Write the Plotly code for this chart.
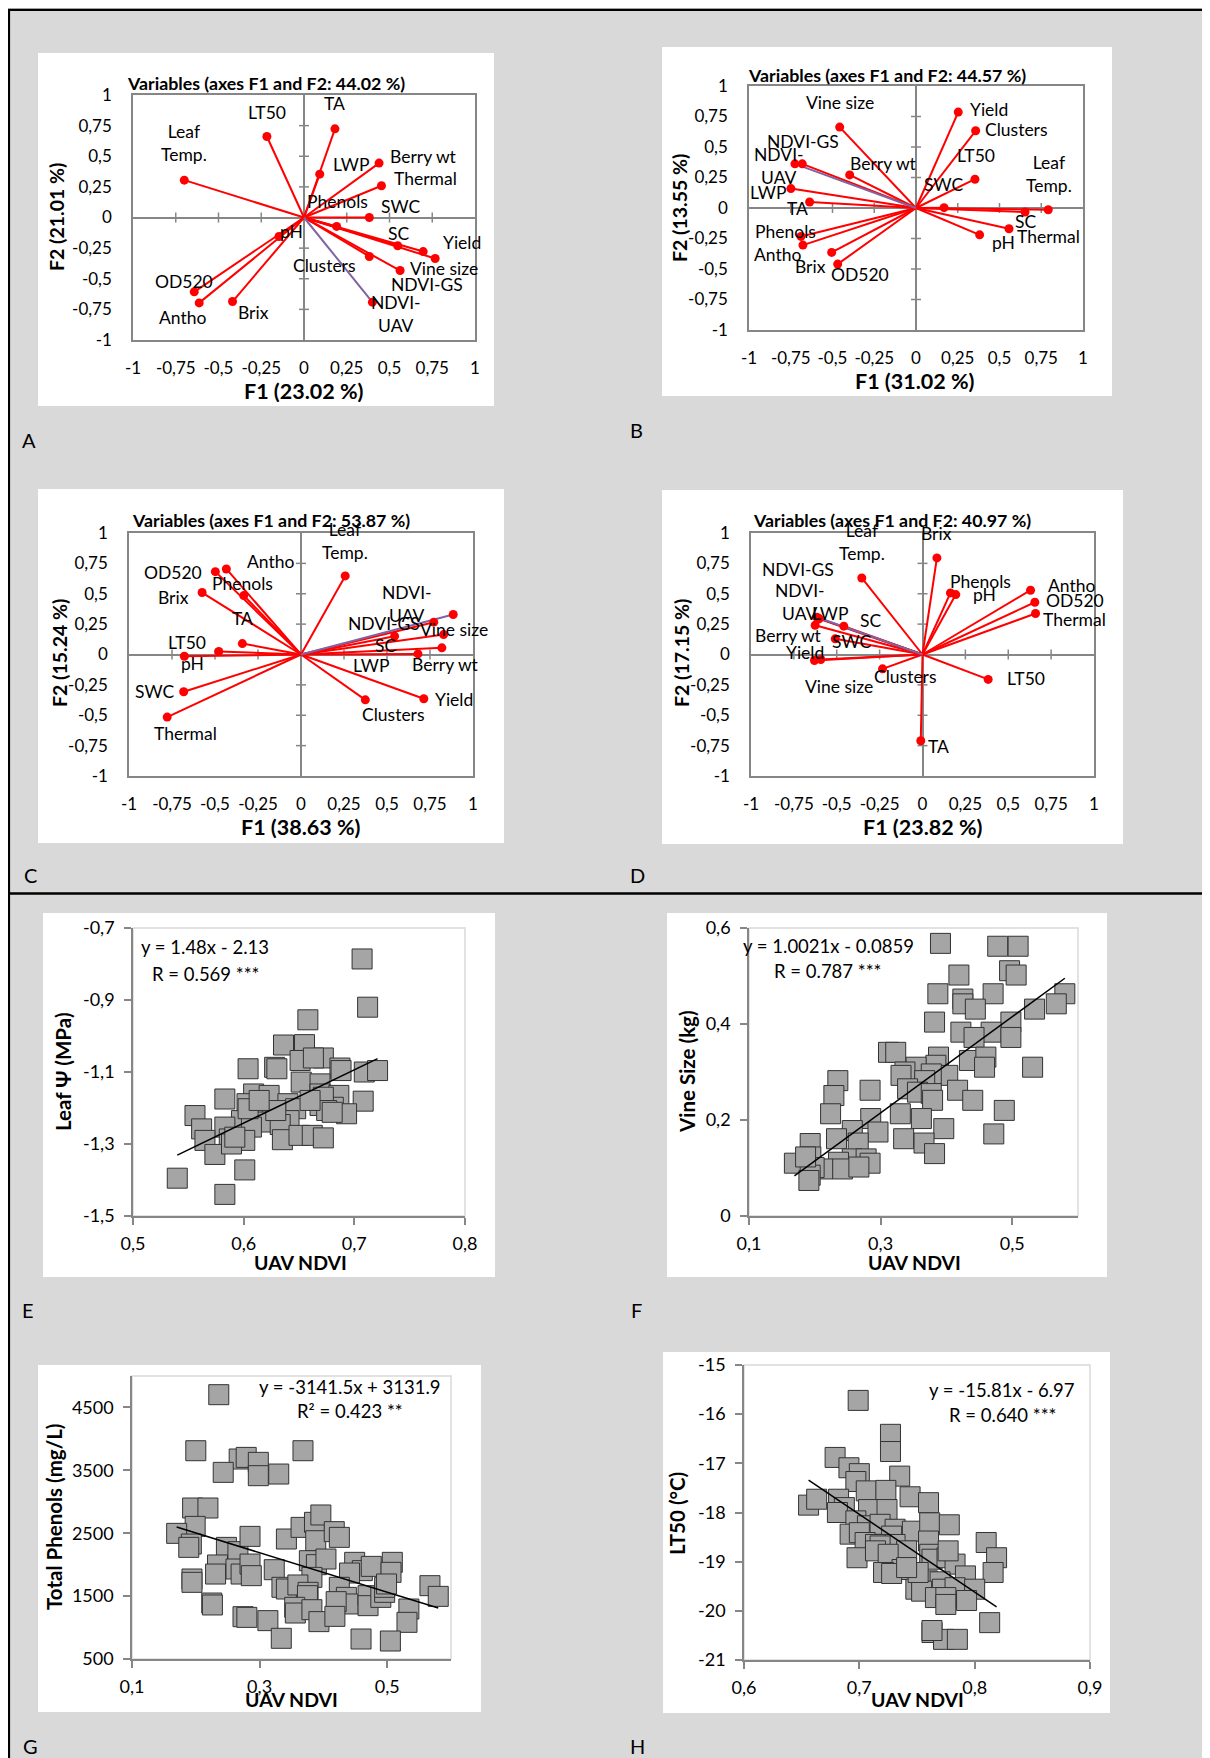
import plotly.graph_objects as go

# page geometry: the browser body adds an 8 px margin, so the figure covers page pixels 8..1210 / 8..1758
OX, OY = 8, 8
W, H = 1202, 1750
FONT = "Lato, sans-serif"
RED = "#ff0000"
PURPLE = "#8064a2"
AXGRAY = "#868686"
LIGHTGRAY = "#d9d9d9"
BOXGRAY = "#d9d9d9"

# ---------------- PCA correlation circles (panels A-D) ----------------
VARIABLES = ["Leaf Temp.", "LT50", "TA", "LWP", "Berry wt", "Thermal", "Phenols", "SWC", "pH",
             "SC", "Yield", "Vine size", "Clusters", "NDVI-GS", "NDVI-UAV", "OD520", "Antho", "Brix"]
DISPLAY = {"Leaf Temp.": "Leaf<br>Temp.", "NDVI-UAV": "NDVI-<br>UAV"}

A_F1 = [-0.700, -0.217, 0.181, 0.092, 0.439, 0.453, 0.191, 0.382, -0.146,
        0.548, 0.767, 0.697, 0.382, 0.562, 0.400, -0.642, -0.613, -0.418]
A_F2 = [0.305, 0.661, 0.724, 0.354, 0.444, 0.259, -0.073, 0.000, -0.155,
        -0.231, -0.335, -0.278, -0.318, -0.433, -0.691, -0.607, -0.697, -0.686]

B_F1 = [0.792, 0.353, -0.637, -0.749, -0.397, 0.557, -0.689, 0.168, 0.381,
        0.653, 0.253, -0.457, 0.357, -0.681, -0.725, -0.469, -0.677, -0.505]
B_F2 = [-0.014, 0.236, 0.049, 0.159, 0.271, -0.170, -0.233, 0.003, -0.220,
        -0.033, 0.786, 0.663, 0.633, 0.362, 0.362, -0.460, -0.304, -0.364]

C_F1 = [0.257, -0.478, -0.341, 0.680, 0.819, -0.778, -0.333, -0.682, -0.678,
        0.544, 0.714, 0.829, 0.374, 0.772, 0.885, -0.498, -0.434, -0.575]
C_F2 = [0.647, 0.025, 0.090, 0.005, 0.055, -0.515, 0.485, -0.307, -0.014,
        0.151, -0.364, 0.164, -0.373, 0.266, 0.329, 0.682, 0.704, 0.510]

D_F1 = [-0.354, 0.383, -0.010, -0.603, -0.626, 0.659, 0.163, -0.509, 0.194,
        -0.459, -0.630, -0.593, -0.233, -0.606, -0.616, 0.655, 0.630, 0.084]
D_F2 = [0.630, -0.205, -0.710, 0.293, 0.241, 0.337, 0.507, 0.129, 0.493,
        0.233, -0.049, -0.041, -0.118, 0.299, 0.307, 0.430, 0.529, 0.795]

PCA_TITLES = ["Variables (axes F1 and F2: 44.02 %)", "Variables (axes F1 and F2: 44.57 %)",
              "Variables (axes F1 and F2: 53.87 %)", "Variables (axes F1 and F2: 40.97 %)"]
PCA_XTITLES = ["F1 (23.02 %)", "F1 (31.02 %)", "F1 (38.63 %)", "F1 (23.82 %)"]
PCA_YTITLES = ["F2 (21.01 %)", "F2 (13.55 %)", "F2 (15.24 %)", "F2 (17.15 %)"]
PCA_TICKS = [-1, -0.75, -0.5, -0.25, 0, 0.25, 0.5, 0.75, 1]
PCA_TICKTEXT = ["-1", "-0,75", "-0,5", "-0,25", "0", "0,25", "0,5", "0,75", "1"]

# label offsets in pixels (layout only)
SHIFT_A = [(0, 37), (0, 24), (0, 25), (32, 10), (44, 7), (44, 7), (1, 25), (31, 11), (12, 5),
           (1, 12), (27, 16), (21, -17), (-45, -9), (27, -14), (24, -12), (-10, 10), (-17, -15), (21, -11)]
SHIFT_B = [(1, 36), (1, 24), (-12, -6), (-22, -4), (34, 11), (39, -8), (-15, 5), (-1, 23), (24, -8),
           (0, -9), (31, 3), (0, 25), (41, 1), (1, 22), (-16, -2), (22, -10), (-25, -9), (-21, -14)]
SHIFT_C = [(0, 35), (-32, 9), (0, 25), (-46, -12), (4, -17), (18, -16), (-1, 12), (-29, 0), (8, -7),
           (-9, -9), (30, -1), (10, 5), (28, -15), (-50, -1), (-46, 11), (-42, -1), (44, 7), (-29, -5)]
SHIFT_D = [(0, 36), (38, 1), (18, -6), (11, 5), (-27, -10), (39, -6), (30, 11), (16, -3), (29, 0),
           (27, 6), (-9, 8), (18, -27), (23, -8), (-21, 49), (-17, 15), (40, 2), (41, 5), (0, 24)]

# ---------------- Regression scatter plots (panels E-H) ----------------
E_X = [0.707, 0.712, 0.658, 0.636, 0.655, 0.651, 0.672, 0.663, 0.628, 0.630,
       0.604, 0.687, 0.688, 0.709, 0.721, 0.652, 0.669, 0.669, 0.609, 0.686,
       0.708, 0.583, 0.603, 0.623, 0.640, 0.647, 0.669, 0.681, 0.693, 0.556,
       0.614, 0.626, 0.598, 0.617, 0.634, 0.641, 0.562, 0.583, 0.607, 0.633,
       0.565, 0.587, 0.601, 0.635, 0.650, 0.662, 0.672, 0.574, 0.540, 0.601,
       0.583, 0.589, 0.629, 0.604, 0.672, 0.675, 0.660, 0.680, 0.614, 0.592]
E_Y = [-0.786, -0.920, -0.955, -1.025, -1.024, -1.068, -1.061, -1.061, -1.087, -1.091,
       -1.091, -1.089, -1.096, -1.100, -1.096, -1.128, -1.133, -1.161, -1.161, -1.165,
       -1.181, -1.175, -1.188, -1.165, -1.188, -1.202, -1.193, -1.198, -1.216, -1.221,
       -1.216, -1.216, -1.235, -1.239, -1.244, -1.235, -1.258, -1.253, -1.253, -1.246,
       -1.290, -1.286, -1.290, -1.288, -1.276, -1.276, -1.283, -1.329, -1.395, -1.372,
       -1.440, -1.300, -1.207, -1.202, -1.170, -1.207, -1.179, -1.212, -1.179, -1.281]

F_X = [0.391, 0.478, 0.509, 0.496, 0.506, 0.419, 0.387, 0.425, 0.425, 0.471,
       0.444, 0.580, 0.567, 0.534, 0.382, 0.498, 0.422, 0.468, 0.442, 0.498,
       0.312, 0.323, 0.388, 0.384, 0.435, 0.460, 0.458, 0.531, 0.354, 0.337,
       0.331, 0.402, 0.377, 0.367, 0.235, 0.341, 0.356, 0.377, 0.417, 0.284,
       0.229, 0.379, 0.440, 0.224, 0.330, 0.488, 0.362, 0.285, 0.296, 0.257,
       0.396, 0.472, 0.233, 0.335, 0.266, 0.366, 0.193, 0.382, 0.169, 0.194,
       0.257, 0.278, 0.284, 0.236, 0.242, 0.212, 0.199, 0.193, 0.191, 0.267,
       0.186]
F_Y = [0.568, 0.562, 0.562, 0.511, 0.502, 0.502, 0.463, 0.452, 0.442, 0.463,
       0.431, 0.463, 0.442, 0.431, 0.404, 0.404, 0.383, 0.383, 0.372, 0.372,
       0.341, 0.341, 0.331, 0.314, 0.324, 0.331, 0.310, 0.310, 0.310, 0.300,
       0.293, 0.293, 0.296, 0.282, 0.282, 0.265, 0.258, 0.255, 0.262, 0.262,
       0.251, 0.241, 0.241, 0.213, 0.213, 0.220, 0.203, 0.203, 0.175, 0.178,
       0.182, 0.171, 0.161, 0.161, 0.152, 0.152, 0.151, 0.130, 0.110, 0.123,
       0.119, 0.119, 0.110, 0.112, 0.098, 0.098, 0.101, 0.085, 0.074, 0.102,
       0.123]

G_X = [0.236, 0.200, 0.368, 0.268, 0.279, 0.298, 0.298, 0.243, 0.330, 0.195,
       0.219, 0.199, 0.170, 0.193, 0.189, 0.248, 0.266, 0.285, 0.342, 0.365,
       0.386, 0.396, 0.388, 0.417, 0.425, 0.234, 0.231, 0.263, 0.271, 0.285,
       0.287, 0.323, 0.378, 0.389, 0.404, 0.449, 0.461, 0.441, 0.475, 0.508,
       0.506, 0.382, 0.194, 0.194, 0.335, 0.342, 0.360, 0.376, 0.375, 0.425,
       0.436, 0.439, 0.420, 0.470, 0.470, 0.490, 0.496, 0.496, 0.499, 0.567,
       0.580, 0.534, 0.531, 0.225, 0.226, 0.274, 0.280, 0.313, 0.355, 0.356,
       0.382, 0.393, 0.418, 0.334, 0.459, 0.505]
G_Y = [4703, 3812, 3812, 3680, 3706, 3627, 3415, 3468, 3441, 2901,
       2901, 2609, 2498, 2328, 2275, 2275, 2207, 2450, 2408, 2593,
       2673, 2790, 2381, 2525, 2434, 1995, 1851, 1931, 1851, 2010,
       1825, 1920, 2063, 2000, 2090, 2037, 1905, 1867, 1973, 2037,
       1878, 1798, 1772, 1719, 1640, 1613, 1677, 1560, 1507, 1640,
       1480, 1375, 1412, 1507, 1348, 1480, 1560, 1640, 1693, 1666,
       1496, 1295, 1083, 1390, 1359, 1173, 1162, 1110, 1322, 1231,
       1284, 1094, 1178, 829, 818, 786]

H_X = [0.699, 0.727, 0.727, 0.679, 0.691, 0.700, 0.697, 0.735, 0.706, 0.723,
       0.744, 0.760, 0.656, 0.663, 0.682, 0.687, 0.708, 0.724, 0.681, 0.697,
       0.707, 0.718, 0.731, 0.746, 0.761, 0.778, 0.692, 0.700, 0.728, 0.705,
       0.714, 0.731, 0.718, 0.741, 0.760, 0.810, 0.698, 0.714, 0.725, 0.761,
       0.763, 0.776, 0.783, 0.819, 0.737, 0.721, 0.728, 0.816, 0.792, 0.759,
       0.770, 0.749, 0.754, 0.772, 0.783, 0.800, 0.766, 0.775, 0.793, 0.775,
       0.813, 0.763, 0.773, 0.785, 0.763, 0.751, 0.741, 0.777]
H_Y = [-15.72, -16.41, -16.76, -16.88, -17.09, -17.21, -17.37, -17.26, -17.56, -17.55,
       -17.68, -17.80, -17.85, -17.73, -17.73, -17.90, -17.94, -17.94, -18.00, -18.17,
       -18.27, -18.24, -18.34, -18.38, -18.21, -18.25, -18.44, -18.41, -18.48, -18.61,
       -18.65, -18.65, -18.68, -18.78, -18.58, -18.61, -18.92, -18.78, -18.85, -18.85,
       -18.95, -18.92, -19.05, -18.92, -19.16, -19.22, -19.24, -19.22, -19.29, -19.39,
       -19.41, -19.56, -19.60, -19.56, -19.53, -19.56, -19.73, -19.73, -19.79, -19.87,
       -20.24, -20.44, -20.58, -20.58, -20.40, -19.22, -19.12, -18.78]

# regression equations (slope, intercept) and texts
E_FIT = (1.48, -2.13)
F_FIT = (1.0021, -0.0859)
G_FIT = (-3141.5, 3131.9)
H_FIT = (-15.81, -6.97)
E_TEXT = ["y = 1.48x - 2.13", "R = 0.569 ***"]
F_TEXT = ["y = 1.0021x - 0.0859", "R = 0.787 ***"]
G_TEXT = ["y = -3141.5x + 3131.9", "R² = 0.423 **"]
H_TEXT = ["y = -15.81x - 6.97", "R = 0.640 ***"]

E_XTICKS, E_XTEXT = [0.5, 0.6, 0.7, 0.8], ["0,5", "0,6", "0,7", "0,8"]
E_YTICKS, E_YTEXT = [-0.7, -0.9, -1.1, -1.3, -1.5], ["-0,7", "-0,9", "-1,1", "-1,3", "-1,5"]
F_XTICKS, F_XTEXT = [0.1, 0.3, 0.5], ["0,1", "0,3", "0,5"]
F_YTICKS, F_YTEXT = [0, 0.2, 0.4, 0.6], ["0", "0,2", "0,4", "0,6"]
G_XTICKS, G_XTEXT = [0.1, 0.3, 0.5], ["0,1", "0,3", "0,5"]
G_YTICKS, G_YTEXT = [500, 1500, 2500, 3500, 4500], ["500", "1500", "2500", "3500", "4500"]
H_XTICKS, H_XTEXT = [0.6, 0.7, 0.8, 0.9], ["0,6", "0,7", "0,8", "0,9"]
H_YTICKS, H_YTEXT = [-15, -16, -17, -18, -19, -20, -21], ["-15", "-16", "-17", "-18", "-19", "-20", "-21"]

# ---------------- layout geometry (page pixels) ----------------
PLOT_BOX = {  # left, top, right, bottom of each plot area
    1: (133, 95, 475, 340), 2: (749, 86, 1083, 330),
    3: (129, 533, 473, 776), 4: (751, 533, 1094, 776),
    5: (133, 928, 465, 1216), 6: (749, 928, 1078, 1216),
    7: (132, 1376, 451, 1659), 8: (744, 1365, 1090, 1660),
}
WHITE_BOX = [(38, 53, 494, 406), (662, 47, 1112, 396), (38, 489, 504, 843), (662, 490, 1123, 844),
             (43, 913, 495, 1277), (667, 913, 1107, 1277), (38, 1365, 481, 1712), (663, 1352, 1110, 1713)]


def px(x):
    return (x - OX) / W


def py(y):
    return 1 - (y - OY) / H


fig = go.Figure()
shapes = []
annotations = []


def ann_paper(text, x, y, size, bold=False, angle=0):
    annotations.append(dict(
        text=f"<b>{text}</b>" if bold else text, x=px(x), y=py(y), xref="paper", yref="paper",
        xanchor="center", yanchor="middle", showarrow=False, textangle=angle,
        font=dict(family=FONT, size=size, color="#000000")))


def axis_names(i):
    s = "" if i == 1 else str(i)
    return "x" + s, "y" + s, "xaxis" + s, "yaxis" + s


# white chart areas
for (l, t, r, b) in WHITE_BOX:
    shapes.append(dict(type="rect", xref="paper", yref="paper", x0=px(l), x1=px(r), y0=py(b), y1=py(t),
                       fillcolor="white", line=dict(width=0), layer="below"))

# frame lines
shapes.append(dict(type="line", xref="paper", yref="paper", x0=px(9), x1=px(9), y0=py(9), y1=0,
                   line=dict(color="black", width=2.2), layer="above"))
shapes.append(dict(type="line", xref="paper", yref="paper", x0=px(8), x1=1, y0=py(9.8), y1=py(9.8),
                   line=dict(color="black", width=2.2), layer="above"))
shapes.append(dict(type="line", xref="paper", yref="paper", x0=px(8), x1=1, y0=py(893.5), y1=py(893.5),
                   line=dict(color="black", width=2.5), layer="above"))

layout_axes = {}

# ---------------- PCA panels ----------------
PCA = [(A_F1, A_F2, SHIFT_A), (B_F1, B_F2, SHIFT_B), (C_F1, C_F2, SHIFT_C), (D_F1, D_F2, SHIFT_D)]
PCA_XTITLE_POS = [(304, 391), (915, 381), (301, 827), (923, 827)]
PCA_YTITLE_POS = [(56, 217), (679, 208), (59, 653), (681, 653)]
PCA_TITLE_POS = [(266, 83), (887, 75), (271, 520), (892, 520)]

for k, (f1, f2, shifts) in enumerate(PCA):
    i = k + 1
    xa, ya, xkey, ykey = axis_names(i)
    l, t, r, b = PLOT_BOX[i]
    layout_axes[xkey] = dict(domain=[px(l), px(r)], range=[-1, 1], anchor=ya, showgrid=False,
                             zeroline=True, zerolinecolor=AXGRAY, zerolinewidth=1.5,
                             showline=True, mirror=True, linecolor=AXGRAY, linewidth=1.5,
                             tickmode="array", tickvals=PCA_TICKS, ticktext=PCA_TICKTEXT, ticks="",
                             ticklabelstandoff=12, automargin=False,
                             tickfont=dict(family=FONT, size=17, color="#000000"), fixedrange=True)
    layout_axes[ykey] = dict(domain=[py(b), py(t)], range=[-1, 1], anchor=xa, showgrid=False,
                             zeroline=True, zerolinecolor=AXGRAY, zerolinewidth=1.5,
                             showline=True, mirror=True, linecolor=AXGRAY, linewidth=1.5,
                             tickmode="array", tickvals=PCA_TICKS, ticktext=PCA_TICKTEXT, ticks="",
                             ticklabelstandoff=16, automargin=False,
                             tickfont=dict(family=FONT, size=17, color="#000000"), fixedrange=True)
    # small tick marks crossing the zero axes
    for tv in PCA_TICKS:
        if tv in (-1, 0, 1):
            continue
        shapes.append(dict(type="line", xref=xa, yref=ya, x0=tv, x1=tv, ysizemode="pixel", yanchor=0,
                           y0=-5, y1=5, line=dict(color=AXGRAY, width=1.5), layer="below"))
        shapes.append(dict(type="line", xref=xa, yref=ya, y0=tv, y1=tv, xsizemode="pixel", xanchor=0,
                           x0=-5, x1=5, line=dict(color=AXGRAY, width=1.5), layer="below"))
    # vectors
    lx, ly = [], []
    for name, a, c in zip(VARIABLES, f1, f2):
        if name == "NDVI-UAV":
            continue
        lx += [0, a, None]
        ly += [0, c, None]
    fig.add_trace(go.Scatter(x=lx, y=ly, mode="lines", line=dict(color=RED, width=2),
                             xaxis=xa, yaxis=ya, hoverinfo="skip", cliponaxis=False))
    u = VARIABLES.index("NDVI-UAV")
    fig.add_trace(go.Scatter(x=[0, f1[u]], y=[0, f2[u]], mode="lines", line=dict(color=PURPLE, width=2),
                             xaxis=xa, yaxis=ya, hoverinfo="skip", cliponaxis=False))
    fig.add_trace(go.Scatter(x=f1, y=f2, mode="markers", marker=dict(color=RED, size=9),
                             xaxis=xa, yaxis=ya, text=VARIABLES, hoverinfo="text", cliponaxis=False))
    for name, a, c, (dx, dy) in zip(VARIABLES, f1, f2, shifts):
        annotations.append(dict(text=DISPLAY.get(name, name), x=a, y=c, xref=xa, yref=ya,
                                xshift=dx, yshift=dy, showarrow=False, xanchor="center", yanchor="middle",
                                font=dict(family=FONT, size=17.5, color="#000000")))
    ann_paper(PCA_TITLES[k], *PCA_TITLE_POS[k], size=17.8, bold=True)
    ann_paper(PCA_XTITLES[k], *PCA_XTITLE_POS[k], size=21.5, bold=True)
    ann_paper(PCA_YTITLES[k], *PCA_YTITLE_POS[k], size=19.5, bold=True, angle=-90)

# ---------------- Scatter panels ----------------
SCAT = [
    (E_X, E_Y, E_FIT, E_TEXT, [0.5, 0.8], [-1.5, -0.7], E_XTICKS, E_XTEXT, E_YTICKS, E_YTEXT,
     "Leaf Ψ (MPa)", (300, 1262), (63, 1072), (205, 947), (205, 974)),
    (F_X, F_Y, F_FIT, F_TEXT, [0.1, 0.6], [0, 0.6], F_XTICKS, F_XTEXT, F_YTICKS, F_YTEXT,
     "Vine Size (kg)", (914, 1262), (687, 1072), (829, 946), (828, 971)),
    (G_X, G_Y, G_FIT, G_TEXT, [0.1, 0.6], [500, 5000], G_XTICKS, G_XTEXT, G_YTICKS, G_YTEXT,
     "Total Phenols (mg/L)", (291, 1699), (54, 1517), (350, 1387), (350, 1411)),
    (H_X, H_Y, H_FIT, H_TEXT, [0.6, 0.9], [-21, -15], H_XTICKS, H_XTEXT, H_YTICKS, H_YTEXT,
     "LT50 (°C)", (917, 1699), (677, 1513), (1002, 1390), (1002, 1415)),
]

for k, (xs, ys, fit, txt, xr, yr, xt, xtt, yt, ytt, ytitle, xtpos, ytpos, e1, e2) in enumerate(SCAT):
    i = k + 5
    xa, ya, xkey, ykey = axis_names(i)
    l, t, r, b = PLOT_BOX[i]
    layout_axes[xkey] = dict(domain=[px(l), px(r)], range=xr, anchor=ya, showgrid=False, zeroline=False,
                             showline=True, mirror=False, linecolor=AXGRAY, linewidth=1.5,
                             tickmode="array", tickvals=xt, ticktext=xtt, ticks="outside", ticklen=7,
                             tickcolor=AXGRAY, tickwidth=1.5, ticklabelstandoff=4, automargin=False,
                             tickfont=dict(family=FONT, size=18, color="#000000"), fixedrange=True)
    layout_axes[ykey] = dict(domain=[py(b), py(t)], range=yr, anchor=xa, showgrid=False, zeroline=False,
                             showline=True, mirror=False, linecolor=AXGRAY, linewidth=1.5,
                             tickmode="array", tickvals=yt, ticktext=ytt, ticks="outside", ticklen=7,
                             tickcolor=AXGRAY, tickwidth=1.5, ticklabelstandoff=6, automargin=False,
                             tickfont=dict(family=FONT, size=18, color="#000000"), fixedrange=True)
    shapes.append(dict(type="rect", xref=xa + " domain", yref=ya + " domain", x0=0, x1=1, y0=0, y1=1,
                       line=dict(color=BOXGRAY, width=1.5), layer="below"))
    fig.add_trace(go.Scatter(x=xs, y=ys, mode="markers", xaxis=xa, yaxis=ya, cliponaxis=False,
                             marker=dict(symbol="square", size=20, color="#a5a5a5",
                                         line=dict(color="#333333", width=1))))
    x0, x1 = min(xs), max(xs)
    fig.add_trace(go.Scatter(x=[x0, x1], y=[fit[0] * x0 + fit[1], fit[0] * x1 + fit[1]], mode="lines",
                             xaxis=xa, yaxis=ya, line=dict(color="black", width=1.5), hoverinfo="skip"))
    ann_paper("UAV NDVI", *xtpos, size=19.5, bold=True)
    ann_paper(ytitle, *ytpos, size=20.5, bold=True, angle=-90)
    ann_paper(txt[0], *e1, size=18.5)
    ann_paper(txt[1], *e2, size=18.5)

# panel letters
LETTERS = ["A", "B", "C", "D", "E", "F", "G", "H"]
LETTER_POS = [(29, 440), (636, 430), (30, 875), (637, 875), (28, 1310), (636, 1310), (30, 1746), (637, 1746)]
for letter, pos in zip(LETTERS, LETTER_POS):
    ann_paper(letter, *pos, size=20)

fig.update_layout(width=W, height=H, margin=dict(l=0, r=0, t=0, b=0, pad=0, autoexpand=False),
                  paper_bgcolor=LIGHTGRAY, plot_bgcolor="white", showlegend=False,
                  shapes=shapes, annotations=annotations, font=dict(family=FONT), **layout_axes)

fig.write_html("out.html")
